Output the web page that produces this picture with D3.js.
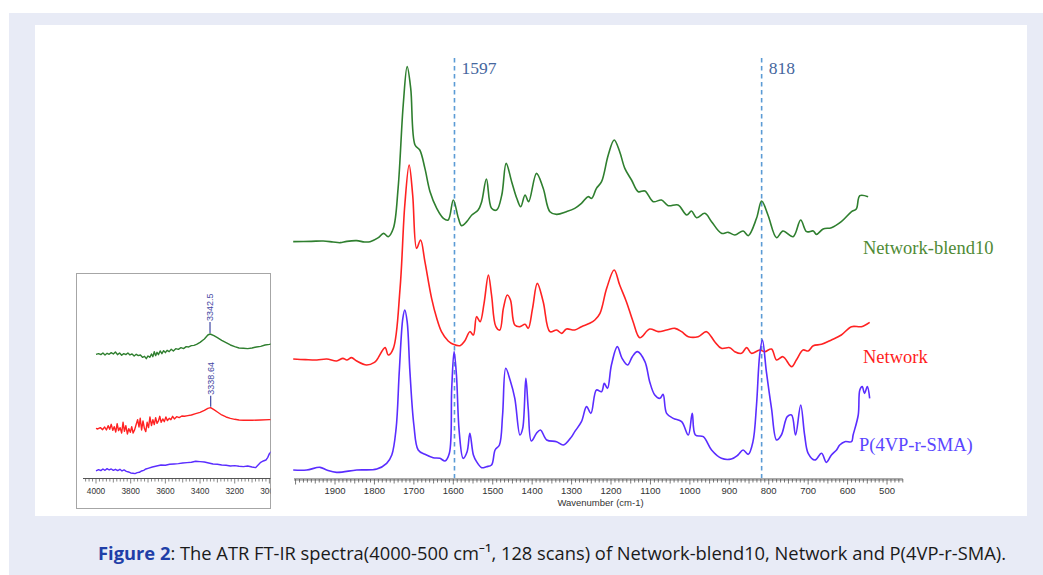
<!DOCTYPE html>
<html><head><meta charset="utf-8">
<script src="https://cdn.jsdelivr.net/npm/d3@7"></script>
<style>body{margin:0;background:#fff}svg{display:block}</style>
</head><body><svg id="c" width="1043" height="575"></svg>
<script>
// ---------- DATA (wavenumber cm-1, absorbance a.u., offset per trace) ----------
const seriesNames = ["Network-blend10", "Network", "P(4VP-r-SMA)"];
const seriesColors = ["#2f7f2f", "#ff2222", "#5a2dff"];
const labelColors = ["#4f8a35", "#ff1c1c", "#5a45ff"];
const markerWavenumbers = [1597, 818];
const mainTicks = [1900,1800,1700,1600,1500,1400,1300,1200,1100,1000,900,800,700,600,500];
const insetTicks = [4000,3800,3600,3400,3200,3000];
const insetPeaks = [{series:0, wn:3342.5, label:"3342.5"}, {series:1, wn:3338.64, label:"3338.64"}];

const blend10Main = [[2006,.730],[1960,.731],[1930,.732],[1905,.729],[1887,.727],[1870,.731],[1845,.733],[1825,.729],[1811,.730],[1790,.742],[1777,.755],[1765,.745],[1752,.770],[1740,.890],[1727,1.140],[1717,1.255],[1708,1.190],[1697,1.020],[1685,1.005],[1672,.950],[1659,.880],[1642,.830],[1625,.800],[1613,.795],[1600,.855],[1587,.800],[1579,.778],[1566,.790],[1553,.810],[1537,.825],[1528,.850],[1516,.918],[1503,.830],[1490,.825],[1477,.870],[1466,.965],[1452,.910],[1439,.860],[1429,.835],[1418,.870],[1409,.850],[1389,.935],[1372,.890],[1355,.820],[1338,.812],[1313,.820],[1292,.830],[1275,.845],[1258,.865],[1249,.860],[1237,.890],[1224,.910],[1207,.990],[1192,1.035],[1178,1.000],[1165,.950],[1148,.915],[1131,.880],[1114,.882],[1093,.850],[1072,.855],[1055,.838],[1030,.840],[1008,.810],[996,.822],[983,.802],[962,.815],[945,.790],[920,.755],[903,.758],[886,.750],[865,.762],[852,.748],[831,.800],[818,.852],[802,.810],[780,.742],[764,.762],[738,.745],[719,.795],[704,.760],[687,.762],[679,.752],[662,.768],[641,.772],[616,.790],[590,.820],[578,.828],[569,.868],[548,.865]];

const networkMain = [[2006,.378],[1975,.376],[1946,.375],[1921,.378],[1896,.372],[1880,.380],[1870,.375],[1858,.382],[1845,.372],[1820,.360],[1800,.368],[1794,.375],[1773,.412],[1765,.390],[1752,.410],[1735,.590],[1723,.840],[1712,.960],[1703,.870],[1693,.710],[1683,.735],[1672,.670],[1655,.560],[1642,.500],[1630,.460],[1613,.432],[1600,.422],[1583,.418],[1571,.432],[1558,.460],[1549,.450],[1541,.505],[1532,.490],[1522,.545],[1511,.630],[1503,.570],[1492,.475],[1482,.465],[1473,.530],[1463,.570],[1455,.555],[1444,.480],[1431,.475],[1418,.482],[1410,.470],[1399,.530],[1387,.605],[1372,.550],[1355,.460],[1338,.465],[1325,.455],[1313,.468],[1292,.465],[1275,.475],[1254,.485],[1241,.495],[1228,.515],[1211,.590],[1192,.645],[1178,.600],[1161,.550],[1144,.490],[1127,.442],[1102,.468],[1080,.460],[1059,.465],[1038,.470],[1021,.460],[1004,.445],[979,.445],[958,.460],[937,.430],[920,.410],[899,.412],[886,.400],[869,.395],[856,.412],[844,.395],[823,.405],[810,.400],[793,.408],[780,.375],[764,.385],[742,.355],[730,.375],[713,.405],[700,.402],[687,.418],[666,.422],[641,.435],[616,.450],[590,.475],[565,.475],[544,.488]];

const p4vpMain = [[2006,.045],[1972,.045],[1938,.053],[1921,.045],[1896,.038],[1845,.045],[1794,.048],[1769,.065],[1756,.090],[1745,.170],[1737,.340],[1728,.500],[1723,.525],[1717,.490],[1710,.340],[1700,.180],[1689,.105],[1672,.092],[1651,.082],[1634,.080],[1621,.072],[1610,.095],[1604,.290],[1598,.400],[1592,.330],[1585,.160],[1575,.080],[1565,.100],[1558,.155],[1549,.090],[1541,.070],[1528,.052],[1516,.055],[1503,.060],[1494,.105],[1483,.120],[1475,.210],[1467,.350],[1456,.315],[1444,.260],[1431,.150],[1424,.170],[1416,.320],[1410,.230],[1402,.132],[1389,.155],[1379,.165],[1363,.135],[1338,.130],[1321,.120],[1300,.145],[1292,.160],[1275,.190],[1262,.235],[1251,.215],[1237,.285],[1224,.280],[1217,.305],[1209,.290],[1199,.360],[1184,.415],[1172,.380],[1158,.360],[1146,.385],[1133,.400],[1114,.370],[1102,.310],[1089,.270],[1076,.260],[1068,.272],[1059,.215],[1042,.200],[1021,.190],[1004,.150],[994,.215],[986,.150],[966,.145],[945,.105],[920,.080],[895,.078],[878,.090],[865,.105],[852,.092],[840,.130],[831,.240],[823,.390],[816,.435],[806,.340],[793,.230],[780,.135],[768,.150],[753,.205],[742,.210],[732,.150],[719,.240],[709,.150],[700,.095],[683,.075],[666,.095],[654,.068],[641,.090],[628,.105],[620,.120],[607,.130],[590,.130],[586,.150],[573,.210],[569,.285],[563,.295],[557,.275],[550,.295],[544,.260]];

const blend10Inset = [[4000,.432],[3985,.434],[3972,.431],[3960,.436],[3948,.430],[3936,.435],[3924,.432],[3912,.437],[3900,.433],[3888,.439],[3876,.431],[3864,.436],[3852,.429],[3840,.434],[3828,.431],[3816,.436],[3804,.430],[3792,.433],[3780,.427],[3768,.432],[3756,.428],[3744,.430],[3732,.423],[3720,.426],[3710,.419],[3700,.427],[3690,.423],[3680,.433],[3672,.425],[3664,.440],[3656,.428],[3648,.438],[3640,.431],[3630,.442],[3620,.434],[3610,.443],[3600,.437],[3590,.444],[3578,.440],[3566,.447],[3554,.442],[3540,.449],[3525,.447],[3510,.452],[3495,.449],[3480,.455],[3465,.454],[3450,.458],[3435,.459],[3420,.462],[3400,.468],[3375,.478],[3355,.490],[3342,.493],[3320,.488],[3300,.482],[3275,.474],[3250,.467],[3225,.460],[3200,.455],[3175,.451],[3150,.450],[3125,.449],[3100,.451],[3075,.454],[3050,.456],[3025,.460],[3000,.462],[2990,.463]];

const networkInset = [[4000,.210],[3990,.208],[3975,.212],[3962,.206],[3950,.214],[3940,.205],[3930,.218],[3921,.207],[3912,.222],[3903,.204],[3895,.215],[3886,.199],[3878,.224],[3870,.203],[3861,.212],[3852,.196],[3844,.228],[3836,.201],[3828,.218],[3819,.193],[3811,.209],[3802,.198],[3794,.215],[3786,.196],[3777,.206],[3768,.222],[3760,.236],[3752,.214],[3745,.240],[3737,.205],[3729,.232],[3721,.210],[3713,.200],[3705,.228],[3697,.212],[3689,.244],[3680,.218],[3672,.236],[3664,.221],[3656,.242],[3648,.225],[3640,.232],[3632,.246],[3624,.228],[3615,.238],[3606,.230],[3597,.244],[3588,.233],[3578,.240],[3568,.236],[3558,.246],[3548,.238],[3535,.245],[3520,.242],[3505,.247],[3490,.246],[3470,.248],[3450,.250],[3425,.254],[3400,.258],[3375,.264],[3355,.270],[3339,.272],[3320,.266],[3300,.259],[3275,.250],[3250,.244],[3225,.240],[3200,.237],[3175,.235],[3150,.234],[3100,.234],[3050,.235],[3000,.236],[2990,.236]];

const p4vpInset = [[4000,.082],[3985,.086],[3972,.083],[3960,.088],[3948,.084],[3936,.089],[3924,.085],[3912,.088],[3900,.084],[3888,.087],[3875,.083],[3862,.087],[3850,.082],[3838,.085],[3825,.081],[3812,.079],[3800,.076],[3787,.075],[3775,.074],[3762,.077],[3750,.078],[3737,.082],[3725,.084],[3712,.088],[3700,.090],[3675,.094],[3650,.097],[3625,.100],[3600,.099],[3575,.102],[3550,.103],[3525,.104],[3500,.106],[3475,.107],[3450,.108],[3425,.111],[3400,.110],[3375,.109],[3350,.106],[3325,.103],[3300,.102],[3275,.100],[3250,.099],[3225,.097],[3200,.098],[3175,.096],[3150,.095],[3125,.097],[3100,.094],[3080,.092],[3065,.100],[3050,.108],[3035,.112],[3020,.115],[3010,.122],[3000,.134],[2990,.140]];

const mainSeries = [blend10Main, networkMain, p4vpMain];
const insetSeries = [blend10Inset, networkInset, p4vpInset];

// ---------- DRAW ----------
const svg = d3.select("#c");
svg.append("rect").attr("x",9).attr("y",13).attr("width",1034).attr("height",562).attr("fill","#e8ebf6");
svg.append("rect").attr("x",35).attr("y",25).attr("width",992).attr("height",491).attr("fill","#ffffff");

// main plot scales
const x = d3.scaleLinear().domain([2004, 460]).range([294, 902.8]);
const y = d3.scaleLinear().domain([0, 1.29]).range([485, 55]);
const axisY = 479;

const line = d3.line().x(d => x(d[0])).y(d => y(d[1])).curve(d3.curveCatmullRom.alpha(0.5));

// marker lines
markerWavenumbers.forEach(w => {
  svg.append("line").attr("x1",x(w)).attr("x2",x(w)).attr("y1",58).attr("y2",axisY-1)
    .attr("stroke","#5b9bd5").attr("stroke-width",1.6).attr("stroke-dasharray","4.5,3.5");
  svg.append("text").attr("x",x(w)+7).attr("y",74).text(String(w))
    .attr("font-family","'Liberation Serif','Times New Roman',serif").attr("font-size",17.5)
    .attr("fill","#46679e");
});

mainSeries.forEach((s,i) => {
  svg.append("path").datum(s).attr("d",line).attr("fill","none")
    .attr("stroke",seriesColors[i]).attr("stroke-width",1.6).attr("stroke-linejoin","round");
});

// main axis (ruler)
const gAx = svg.append("g").attr("transform",`translate(0,${axisY})`);
gAx.append("line").attr("x1",x(2004)).attr("x2",x(460)).attr("stroke","#555").attr("stroke-width",1);
gAx.append("line").attr("x1",x(2004)).attr("x2",x(460)).attr("y1",1.5).attr("y2",1.5).attr("stroke","#999").attr("stroke-width",0.6);
const minor = d3.range(2000, 459, -10);
gAx.selectAll("line.t").data(minor).enter().append("line").attr("class","t")
  .attr("x1",d=>x(d)).attr("x2",d=>x(d)).attr("y1",0)
  .attr("y2",d=> d%100===0 ? 5.5 : (d%50===0 ? 4.5 : 3.5))
  .attr("stroke","#555").attr("stroke-width",0.8);
gAx.selectAll("text").data(mainTicks).enter().append("text")
  .attr("x",d=>x(d)).attr("y",15).attr("text-anchor","middle")
  .attr("font-family","'Liberation Sans',Arial,sans-serif").attr("font-size",9.5).attr("fill","#333")
  .text(d=>d);
svg.append("text").attr("x",600.5).attr("y",505.5).attr("text-anchor","middle")
  .attr("font-family","'Liberation Sans',Arial,sans-serif").attr("font-size",9.5).attr("fill","#333")
  .text("Wavenumber (cm-1)");

// series labels
const labelPos = [[863,254],[863,363],[859,451]];
seriesNames.forEach((n,i) => {
  svg.append("text").attr("x",labelPos[i][0]).attr("y",labelPos[i][1]).text(n)
    .attr("font-family","'Liberation Serif','Times New Roman',serif").attr("font-size",18.5)
    .attr("fill",labelColors[i]);
});

// ---------- INSET ----------
svg.append("rect").attr("x",76.5).attr("y",273.5).attr("width",194).attr("height",235)
  .attr("fill","#fff").attr("stroke","#a6a6a6").attr("stroke-width",1);
svg.append("clipPath").attr("id","ic").append("rect").attr("x",77).attr("y",274).attr("width",193.5).attr("height",234);
const xi = d3.scaleLinear().domain([4000, 3000]).range([96, 269.4]);
const yi = d3.scaleLinear().domain([0, 0.7]).range([498.3, 265]);
const gi = svg.append("g").attr("clip-path","url(#ic)");
const lineI = d3.line().x(d => xi(d[0])).y(d => yi(d[1]));
insetSeries.forEach((s,i) => {
  gi.append("path").datum(s).attr("d",lineI).attr("fill","none")
    .attr("stroke",seriesColors[i]).attr("stroke-width",1.4).attr("stroke-linejoin","round");
});
const iAxY = 478.5;
gi.append("line").attr("x1",xi(4075)).attr("x2",xi(2950)).attr("y1",iAxY).attr("y2",iAxY).attr("stroke","#555");
gi.selectAll("line.it").data(d3.range(4060, 2940, -20)).enter().append("line").attr("class","it")
  .attr("x1",d=>xi(d)).attr("x2",d=>xi(d)).attr("y1",iAxY)
  .attr("y2",d=> d%200===0 ? iAxY+5 : (d%100===0 ? iAxY+4 : iAxY+3)).attr("stroke","#555").attr("stroke-width",0.7);
gi.selectAll("text.il").data(insetTicks).enter().append("text").attr("class","il")
  .attr("x",d=>xi(d)).attr("y",iAxY+15).attr("text-anchor","middle")
  .attr("font-family","'Liberation Sans',Arial,sans-serif").attr("font-size",8.3).attr("fill","#333")
  .text(d=>d);
insetPeaks.forEach(p => {
  const s = insetSeries[p.series];
  const pk = s.reduce((a,b)=> (b[1]>a[1]?b:a));
  const px = xi(p.wn), py = yi(pk[1]);
  gi.append("line").attr("x1",px).attr("x2",px).attr("y1",py-1).attr("y2",py-12).attr("stroke","#3f48a3").attr("stroke-width",1.2);
  gi.append("text").attr("transform",`translate(${px+3.2},${py-13}) rotate(-90)`)
    .attr("font-family","'Liberation Sans',Arial,sans-serif").attr("font-size",9).attr("fill","#3f48a3")
    .text(p.label);
});

// ---------- CAPTION ----------
const cap = svg.append("text").attr("x",98).attr("y",560)
  .attr("font-family","'Open Sans','Noto Sans',sans-serif").attr("font-size",18.5).attr("fill","#1a1a1a")
  .attr("textLength",908).attr("lengthAdjust","spacingAndGlyphs");
cap.append("tspan").attr("font-weight","bold").attr("fill","#1f3fa8").text("Figure 2");
cap.append("tspan").text(": The ATR FT-IR spectra(4000-500 cm\u207B\u00B9, 128 scans) of Network-blend10, Network and P(4VP-r-SMA).");
</script></body></html>
